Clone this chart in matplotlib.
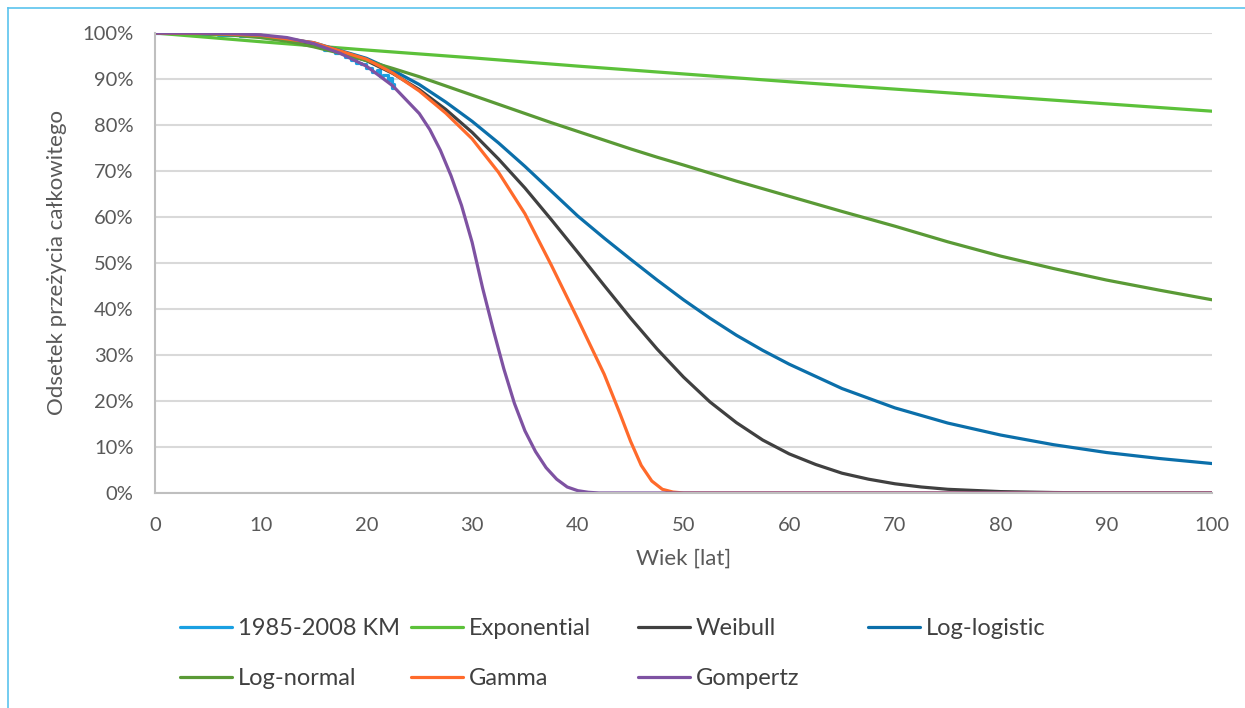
import matplotlib.pyplot as plt
from matplotlib.lines import Line2D

plt.rcParams['font.family'] = ['Lato', 'DejaVu Sans']

# values (age in years, survival in %)
exp_age = [0, 10, 20, 30, 40, 50, 60, 70, 80, 90, 100]
exponential = [100, 98.1, 96.3, 94.6, 92.8, 91.1, 89.4, 87.8, 86.2, 84.6, 83.0]

wei_age = [0, 5, 10, 15, 20, 22.5, 25, 27.5, 30, 32.5, 35, 37.5, 40, 42.5, 45, 47.5,
           50, 52.5, 55, 57.5, 60, 62.5, 65, 67.5, 70, 72.5, 75, 80, 85, 90, 100]
weibull = [100, 99.9, 99.4, 97.7, 94.0, 91.2, 87.7, 83.4, 78.4, 72.6, 66.3, 59.4, 52.3,
           45.1, 38.0, 31.3, 25.2, 19.8, 15.3, 11.5, 8.5, 6.2, 4.3, 3.0, 2.0, 1.3, 0.8,
           0.3, 0.1, 0.0, 0.0]

ll_age = [0, 5, 10, 15, 20, 22.5, 25, 27.5, 30, 32.5, 35, 37.5, 40, 42.5, 45, 47.5,
          50, 52.5, 55, 57.5, 60, 65, 70, 75, 80, 85, 90, 95, 100]
log_logistic = [100, 99.9, 99.5, 97.9, 94.5, 91.9, 88.8, 85.0, 80.8, 76.1, 71.0, 65.6,
                60.2, 55.4, 50.8, 46.3, 42.0, 38.0, 34.3, 31.0, 28.0, 22.7, 18.5, 15.2,
                12.6, 10.5, 8.8, 7.5, 6.4]

ln_age = [0, 2.5, 5, 7.5, 10, 12.5, 15, 17.5, 20, 22.5, 25, 27.5, 30, 32.5, 35, 37.5,
          40, 42.5, 45, 47.5, 50, 55, 60, 65, 70, 75, 80, 85, 90, 95, 100]
log_normal = [100, 99.97, 99.8, 99.5, 99.0, 98.2, 97.0, 95.6, 94.0, 92.3, 90.5, 88.5,
              86.5, 84.5, 82.5, 80.5, 78.6, 76.7, 74.8, 73.0, 71.3, 67.8, 64.5, 61.2,
              58.0, 54.6, 51.5, 48.8, 46.3, 44.1, 42.0]

gam_age = [0, 5, 10, 15, 20, 22.5, 25, 27.5, 30, 32.5, 35, 37.5, 40, 41, 42.5, 44, 45,
           46, 47, 48, 49, 50, 100]
gamma = [100, 99.9, 99.5, 97.9, 94.3, 91.3, 87.4, 82.6, 77.0, 69.7, 60.7, 49.5, 37.8,
         33.0, 25.8, 17.2, 11.2, 6.0, 2.6, 0.8, 0.2, 0.0, 0.0]

gom_age = [0, 5, 8, 10, 12.5, 15, 17.5, 20, 22.5, 25, 26, 27, 28, 29, 30, 31, 32, 33,
           34, 35, 36, 37, 38, 39, 40, 41, 42, 100]
gompertz = [100, 99.95, 99.8, 99.6, 99.0, 97.7, 95.6, 92.8, 88.5, 82.5, 79.0, 74.5, 69.0,
            62.5, 54.5, 44.5, 35.5, 27.0, 19.5, 13.5, 9.0, 5.5, 3.0, 1.3, 0.5, 0.15,
            0.0, 0.0]

# Kaplan-Meier estimate 1985-2008
km_age = [0, 2, 4, 6, 8, 10, 12, 13, 14, 15, 16, 17, 18, 18.5, 19, 19.5, 20, 20.5,
          21, 21.3, 21.6, 22, 22.2, 22.4, 22.6]
km_surv = [100, 99.9, 99.8, 99.6, 99.4, 99.1, 98.6, 98.2, 97.6, 97.1, 96.4, 95.6, 94.8,
           94.2, 93.5, 93.2, 92.4, 91.6, 91.9, 90.6, 90.8, 89.8, 90.2, 88.0, 89.0]

series = [
    ("1985-2008 KM", km_age, km_surv, "#1AA0E2"),
    ("Exponential", exp_age, exponential, "#5CC13A"),
    ("Weibull", wei_age, weibull, "#404040"),
    ("Log-logistic", ll_age, log_logistic, "#0B6FAA"),
    ("Log-normal", ln_age, log_normal, "#5A9A36"),
    ("Gamma", gam_age, gamma, "#FF6A2B"),
    ("Gompertz", gom_age, gompertz, "#7E52A2"),
]

fig = plt.figure(figsize=(12.45, 7.08), dpi=100)
ax = fig.add_axes([0.1245, 0.3037, 0.849, 0.6497])

handles = {}
for name, xs, ys, col in series:
    ds = 'steps-post' if name.startswith('1985') else 'default'
    h, = ax.plot(xs, [v / 100 for v in ys], color=col, lw=2.3, drawstyle=ds,
                 solid_capstyle='round', solid_joinstyle='round', label=name)
    handles[name] = h

ax.set_xlim(0, 100)
ax.set_ylim(0, 1.0)
ax.set_xticks(range(0, 101, 10))
ax.set_yticks([i / 10 for i in range(11)])
ax.set_yticklabels([f"{i * 10}%" for i in range(11)])
ax.tick_params(length=0, labelsize=14.5, colors='#595959')
ax.tick_params(axis='y', pad=15.5)
ax.tick_params(axis='x', pad=17)
ax.grid(axis='y', color='#D9D9D9', lw=1.5)
ax.set_axisbelow(True)
for s in ['top', 'right']:
    ax.spines[s].set_visible(False)
for s in ['left', 'bottom']:
    ax.spines[s].set_color('#BFBFBF')
    ax.spines[s].set_linewidth(1.5)
ax.set_xlabel("Wiek [lat]", fontsize=16, color='#595959', labelpad=11)
ax.set_ylabel("Odsetek przeżycia całkowitego", fontsize=16, color='#595959', labelpad=11)

# legend laid out in fixed-width columns like the original
columns = [["1985-2008 KM", "Log-normal"], ["Exponential", "Gamma"],
           ["Weibull", "Gompertz"], ["Log-logistic"]]
col_x = [180, 411, 638, 868]
for names, x0 in zip(columns, col_x):
    leg = fig.legend([handles[n] for n in names], names, loc='upper left',
                     bbox_to_anchor=(x0 / 1245, 1 - 618 / 708), frameon=False,
                     fontsize=17, handlelength=2.2, handletextpad=0.25,
                     labelspacing=1.22, borderpad=0, borderaxespad=0)
    for t in leg.get_texts():
        t.set_color('#404040')

# light blue frame edges visible in the crop
fig.add_artist(Line2D([8 / 1245, 8 / 1245], [0, 1 - 8 / 708], color='#5BC3EE', lw=1.2,
                      transform=fig.transFigure))
fig.add_artist(Line2D([8 / 1245, 1], [1 - 8 / 708, 1 - 8 / 708], color='#5BC3EE', lw=1.2,
                      transform=fig.transFigure))

fig.savefig("out.png", dpi=100)
